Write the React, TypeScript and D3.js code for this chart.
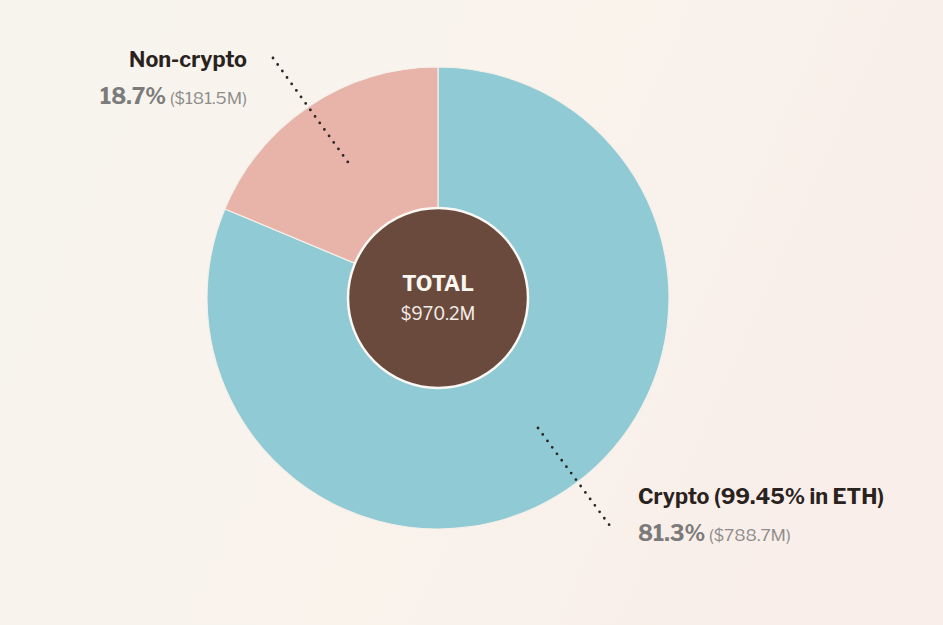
import React from 'react';
import * as d3 from 'd3';

const categories = ['Crypto', 'Non-crypto'];
const shares = [81.3, 18.7];
const amounts = ['$788.7M', '$181.5M'];
const sliceColors = ['#8fcad5', '#e8b4aa'];
const totalLabel = '$970.2M';

const W = 943;
const H = 625;
const cx = 438;
const cy = 298;
const outerR = 231;
const innerR = 90;

const font = "'Libre Franklin', Inter, 'Open Sans', sans-serif";

export default function App() {
  const pie = d3.pie<number>().sort(null).value(d => d);
  const arcs = pie(shares);
  const arc = d3.arc<d3.PieArcDatum<number>>().innerRadius(0).outerRadius(outerR);

  return (
    <svg width={W} height={H} viewBox={`0 0 ${W} ${H}`}
      style={{ position: 'absolute', left: 0, top: 0, fontFamily: font }}>
      <defs>
        <linearGradient id="bg" x1="0" y1="0" x2="1" y2="0.3">
          <stop offset="0" stopColor="#f7f4ee" />
          <stop offset="0.6" stopColor="#f9f3ec" />
          <stop offset="1" stopColor="#f9eee9" />
        </linearGradient>
      </defs>
      <rect width={W} height={H} fill="url(#bg)" />

      <g transform={`translate(${cx},${cy})`}>
        {arcs.map((a, i) => (
          <path key={categories[i]} d={arc(a) || ''} fill={sliceColors[i]}
            stroke="#f4efe9" strokeWidth={1.2} />
        ))}
        <circle r={innerR} fill="#6a4a3d" stroke="#fbf8f4" strokeWidth={2.5} />
        <text y={-7} textAnchor="middle" fill="#fbf6f0" fontWeight={700} fontSize={21.5}>TOTAL</text>
        <text y={22} textAnchor="middle" fill="#f3ece6" fontSize={17.5}>{totalLabel}</text>
      </g>

      {/* leader lines */}
      <line x1={273} y1={58} x2={350} y2={165} stroke="#2b2622" strokeWidth={2.8}
        strokeLinecap="round" strokeDasharray="0 8" />
      <line x1={538} y1={428} x2={613} y2={530} stroke="#2b2622" strokeWidth={2.8}
        strokeLinecap="round" strokeDasharray="0 8" />

      {/* Non-crypto label */}
      <text x={247} y={67} textAnchor="end" fill="#2a221d" fontWeight={700} fontSize={21.5}>
        {categories[1]}
      </text>
      <text x={247} y={104} textAnchor="end">
        <tspan fill="#7c7b7b" fontWeight={700} fontSize={22}>{shares[1]}%</tspan>
        <tspan fill="#8e8d8c" fontSize={17}> ({amounts[1]})</tspan>
      </text>

      {/* Crypto label */}
      <text x={638} y={504} fill="#2a221d" fontWeight={700} fontSize={21.5}>
        {categories[0]} (99.45% in ETH)
      </text>
      <text x={638} y={541}>
        <tspan fill="#7c7b7b" fontWeight={700} fontSize={22}>{shares[0]}%</tspan>
        <tspan fill="#8e8d8c" fontSize={17}> ({amounts[0]})</tspan>
      </text>
    </svg>
  );
}
